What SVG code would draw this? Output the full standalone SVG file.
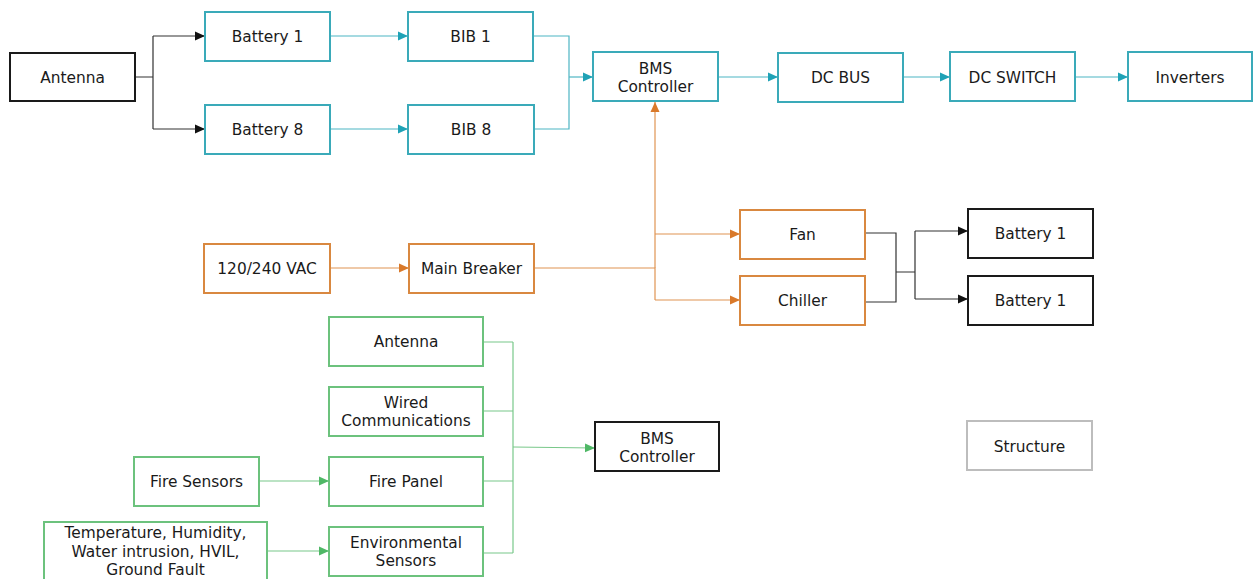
<svg xmlns="http://www.w3.org/2000/svg" width="1254" height="579" viewBox="0 0 1254 579">
  <style>
    text { font-family: "DejaVu Sans", Verdana, sans-serif; font-size: 15.4px; fill: #1a1a1a; text-anchor: middle; dominant-baseline: central; }
    .box { fill: #ffffff; stroke-width: 2; }
    .teal { stroke: #3aaab9; }
    .orange { stroke: #d98840; }
    .green { stroke: #6cc27d; }
    .black { stroke: #1a1a1a; }
    .gray { stroke: #bdbdbd; }
    .ln { fill: none; stroke-width: 1.2; }
    .lteal { stroke: #4db5c3; }
    .lorange { stroke: #e09453; }
    .lgreen { stroke: #79c88a; }
    .lblack { stroke: #333333; }
  </style>
  <defs>
    <marker id="arrTeal" markerUnits="userSpaceOnUse" markerWidth="10" markerHeight="10" refX="10" refY="5" orient="auto">
      <path d="M0,0.5 L10,5 L0,9.5 z" fill="#1fa2b6"/>
    </marker>
    <marker id="arrOrange" markerUnits="userSpaceOnUse" markerWidth="10" markerHeight="10" refX="10" refY="5" orient="auto">
      <path d="M0,0.5 L10,5 L0,9.5 z" fill="#d9792a"/>
    </marker>
    <marker id="arrGreen" markerUnits="userSpaceOnUse" markerWidth="10" markerHeight="10" refX="10" refY="5" orient="auto">
      <path d="M0,0.5 L10,5 L0,9.5 z" fill="#4fb866"/>
    </marker>
    <marker id="arrBlack" markerUnits="userSpaceOnUse" markerWidth="10" markerHeight="10" refX="10" refY="5" orient="auto">
      <path d="M0,0.5 L10,5 L0,9.5 z" fill="#111111"/>
    </marker>
  </defs>

  <rect width="1254" height="579" fill="#ffffff"/>

  <!-- connectors -->
  <g id="connectors">
    <!-- antenna fan-out to battery strings -->
    <path class="ln lblack" d="M135,77 H153 M153,36 V129"/>
    <path class="ln lblack" d="M153,36 H205" marker-end="url(#arrBlack)"/>
    <path class="ln lblack" d="M153,129 H205" marker-end="url(#arrBlack)"/>

    <!-- DC power chain -->
    <path class="ln lteal" d="M330,36 H408" marker-end="url(#arrTeal)"/>
    <path class="ln lteal" d="M330,129 H408" marker-end="url(#arrTeal)"/>
    <path class="ln lteal" d="M533,36 H569 V129 H534"/>
    <path class="ln lteal" d="M569,77 H593" marker-end="url(#arrTeal)"/>
    <path class="ln lteal" d="M718,77 H778" marker-end="url(#arrTeal)"/>
    <path class="ln lteal" d="M903,77 H950" marker-end="url(#arrTeal)"/>
    <path class="ln lteal" d="M1075,77 H1128" marker-end="url(#arrTeal)"/>

    <!-- AC auxiliary power -->
    <path class="ln lorange" d="M330,268 H409" marker-end="url(#arrOrange)"/>
    <path class="ln lorange" d="M534,268 H655 V300"/>
    <path class="ln lorange" d="M655,268 V102" marker-end="url(#arrOrange)"/>
    <path class="ln lorange" d="M655,234 H740" marker-end="url(#arrOrange)"/>
    <path class="ln lorange" d="M655,300 H740" marker-end="url(#arrOrange)"/>

    <!-- thermal management to batteries -->
    <path class="ln lblack" d="M865,233 H896 V302 H865 M896,272 H915 M915,231 V299"/>
    <path class="ln lblack" d="M915,231 H968" marker-end="url(#arrBlack)"/>
    <path class="ln lblack" d="M915,299 H968" marker-end="url(#arrBlack)"/>

    <!-- communications and sensing -->
    <path class="ln lgreen" d="M483,342 H513 M483,411 H513 M483,481 H513 M483,553 H513 M513,342 V553"/>
    <path class="ln lgreen" d="M513,447 L595,448" marker-end="url(#arrGreen)"/>
    <path class="ln lgreen" d="M259,481 H329" marker-end="url(#arrGreen)"/>
    <path class="ln lgreen" d="M267,551 H329" marker-end="url(#arrGreen)"/>
  </g>

  <!-- nodes -->
  <g id="antenna-top">
    <rect class="box black" x="10" y="53" width="125" height="48"/>
    <text x="72.5" y="77.5">Antenna</text>
  </g>
  <g id="battery-1">
    <rect class="box teal" x="205" y="12" width="125" height="49"/>
    <text x="267.5" y="37">Battery 1</text>
  </g>
  <g id="battery-8">
    <rect class="box teal" x="205" y="105" width="125" height="49"/>
    <text x="267.5" y="130">Battery 8</text>
  </g>
  <g id="bib-1">
    <rect class="box teal" x="408" y="12" width="125" height="49"/>
    <text x="470.5" y="37">BIB 1</text>
  </g>
  <g id="bib-8">
    <rect class="box teal" x="408" y="105" width="126" height="49"/>
    <text x="471" y="130">BIB 8</text>
  </g>
  <g id="bms-controller-top">
    <rect class="box teal" x="593" y="52" width="125" height="49"/>
    <text x="655.5" y="69">BMS</text>
    <text x="655.5" y="87">Controller</text>
  </g>
  <g id="dc-bus">
    <rect class="box teal" x="778" y="53" width="125" height="49"/>
    <text x="840.5" y="78">DC BUS</text>
  </g>
  <g id="dc-switch">
    <rect class="box teal" x="950" y="52" width="125" height="49"/>
    <text x="1012.5" y="77.5">DC SWITCH</text>
  </g>
  <g id="inverters">
    <rect class="box teal" x="1128" y="52" width="124" height="49"/>
    <text x="1190" y="77.5">Inverters</text>
  </g>

  <g id="vac-supply">
    <rect class="box orange" x="204" y="244" width="126" height="49"/>
    <text x="267" y="269">120/240 VAC</text>
  </g>
  <g id="main-breaker">
    <rect class="box orange" x="409" y="244" width="125" height="49"/>
    <text x="471.5" y="269">Main Breaker</text>
  </g>
  <g id="fan">
    <rect class="box orange" x="740" y="210" width="125" height="49"/>
    <text x="802.5" y="235">Fan</text>
  </g>
  <g id="chiller">
    <rect class="box orange" x="740" y="276" width="125" height="49"/>
    <text x="802.5" y="301">Chiller</text>
  </g>
  <g id="battery-1-fan">
    <rect class="box black" x="968" y="209" width="125" height="49"/>
    <text x="1030.5" y="234">Battery 1</text>
  </g>
  <g id="battery-1-chiller">
    <rect class="box black" x="968" y="276" width="125" height="49"/>
    <text x="1030.5" y="301">Battery 1</text>
  </g>

  <g id="antenna-comm">
    <rect class="box green" x="329" y="317" width="154" height="49"/>
    <text x="406" y="342">Antenna</text>
  </g>
  <g id="wired-comm">
    <rect class="box green" x="329" y="387" width="154" height="49"/>
    <text x="406" y="403">Wired</text>
    <text x="406" y="421">Communications</text>
  </g>
  <g id="fire-panel">
    <rect class="box green" x="329" y="457" width="154" height="49"/>
    <text x="406" y="482">Fire Panel</text>
  </g>
  <g id="environmental-sensors">
    <rect class="box green" x="329" y="527" width="154" height="49"/>
    <text x="406" y="543">Environmental</text>
    <text x="406" y="561">Sensors</text>
  </g>
  <g id="fire-sensors">
    <rect class="box green" x="134" y="457" width="125" height="49"/>
    <text x="196.5" y="482">Fire Sensors</text>
  </g>
  <g id="env-inputs">
    <rect class="box green" x="44" y="522" width="223" height="70"/>
    <text x="155.5" y="533">Temperature, Humidity,</text>
    <text x="155.5" y="551.5">Water intrusion, HVIL,</text>
    <text x="155.5" y="570">Ground Fault</text>
  </g>
  <g id="bms-controller-bottom">
    <rect class="box black" x="595" y="422" width="124" height="49"/>
    <text x="657" y="439">BMS</text>
    <text x="657" y="457">Controller</text>
  </g>
  <g id="structure">
    <rect class="box gray" x="967" y="421" width="125" height="49"/>
    <text x="1029.5" y="446.5">Structure</text>
  </g>
</svg>
